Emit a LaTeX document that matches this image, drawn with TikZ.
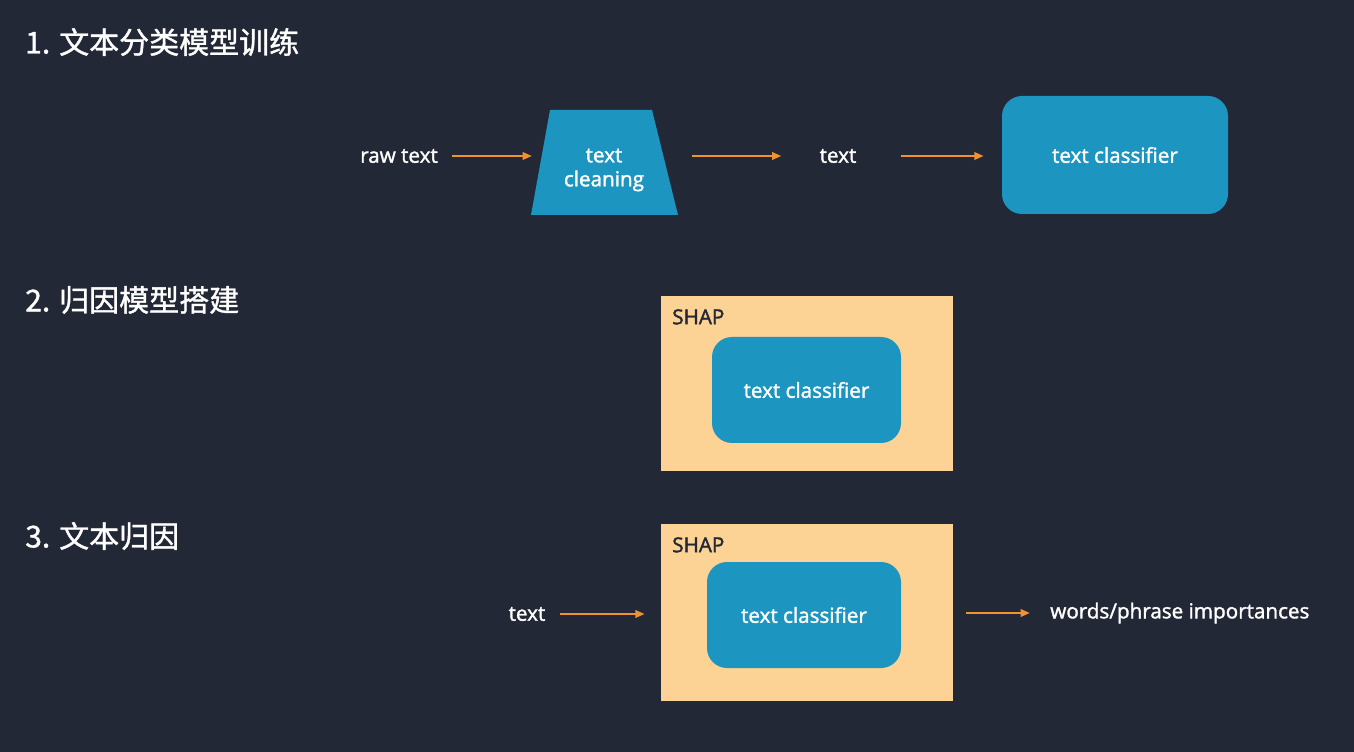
\documentclass[tikz,border=0pt]{standalone}
\usepackage{fontspec}
\setmainfont{Open Sans}[FakeBold=1.6]
\newfontfamily\cjkfont{Noto Sans CJK SC}[FakeBold=1.2]
\usetikzlibrary{calc,arrows.meta}
\definecolor{bgdark}{HTML}{232836}
\definecolor{boxblue}{HTML}{1C96C0}
\definecolor{shapbg}{HTML}{FDD295}
\definecolor{arrorange}{HTML}{F0922D}
\tikzset{
  x=0.75pt, y=-0.75pt,
  title/.style={anchor=west, inner sep=0pt, text=white, font=\cjkfont\fontsize{22.5}{26}\selectfont},
  label/.style={inner sep=0pt, text=white, font=\fontsize{15.5}{18}\selectfont},
  shaplabel/.style={anchor=north west, inner sep=0pt, text=bgdark, font=\fontsize{15.5}{18}\selectfont},
  classifier/.style={fill=boxblue, rounded corners=15pt, inner sep=0pt, text=white,
    font=\fontsize{15.5}{18}\selectfont},
  shapbox/.style={fill=shapbg, inner sep=0pt},
  flow/.style={draw=arrorange, line width=1.7pt, -{Triangle[length=7pt,width=5.5pt]}},
}
\begin{document}
\begin{tikzpicture}
\fill[bgdark] (0,0) rectangle (1354,752);
\useasboundingbox (0,0) rectangle (1354,752);

% section titles
\node[title] (t1) at (25,42) {1. 文本分类模型训练};
\node[title] (t2) at (25,300) {2. 归因模型搭建};
\node[title] (t3) at (25,536) {3. 文本归因};

% 1. training pipeline
\node[label] (raw) at (399,156) {raw text};
\fill[boxblue] (531,215) -- (550,110) -- (652,110) -- (678,215) -- cycle;
\coordinate (cleanin) at (532,156);
\coordinate (cleanout) at (692,156);
\node[label, align=center] (clean) at (604,170) {text\\cleaning};
\node[label] (txt1) at (838,156) {text};
\node[classifier, minimum width=226*0.75pt, minimum height=118*0.75pt] (clf1) at (1115,155) {text classifier};

\path ($(raw.east)+(14,0)$) coordinate (a1s);
\path ($(txt1.west)-(38,0)$) coordinate (a2e);
\path ($(txt1.east)+(44,0)$) coordinate (a3s);
\path ($(clf1.west)-(18,0)$) coordinate (a3e);
\draw[flow] (a1s) -- (cleanin |- a1s);
\draw[flow] (cleanout) -- (a2e |- cleanout);
\draw[flow] (cleanout -| a3s) -- (a3e |- cleanout);

% 2. SHAP explainer around the classifier
\node[shapbox, minimum width=292*0.75pt, minimum height=175*0.75pt] (shap2) at (807,383.5) {};
\node[shaplabel] (shap2lbl) at (672,309) {SHAP};
\node[classifier, minimum width=189*0.75pt, minimum height=106*0.75pt] (clf2) at (806.5,390) {text classifier};

% 3. attribution of a text
\node[shapbox, minimum width=292*0.75pt, minimum height=177*0.75pt] (shap3) at (807,612.5) {};
\node[shaplabel] (shap3lbl) at (672,537) {SHAP};
\node[classifier, minimum width=194*0.75pt, minimum height=106*0.75pt] (clf3) at (804,615) {text classifier};
\node[label] (txt3) at (527,614) {text};
\node[label, anchor=west] (imp) at (1050,613) {words/phrase importances};

\path ($(txt3.east)+(14,0)$) coordinate (a4s);
\path ($(shap3.west)-(16,0)$) coordinate (a4e);
\path ($(shap3.east)+(13,0)$) coordinate (a5s);
\path ($(imp.west)-(20,0)$) coordinate (a5e);
\draw[flow] (a4s) -- (a4e |- a4s);
\draw[flow] (a5s |- imp.west) -- (a5e);
\end{tikzpicture}
\end{document}
